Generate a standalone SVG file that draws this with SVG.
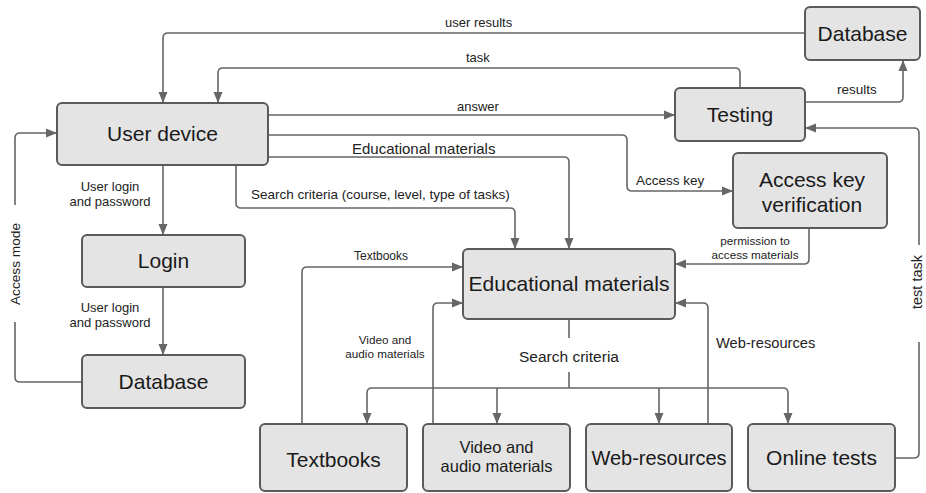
<svg xmlns="http://www.w3.org/2000/svg" width="926" height="493" viewBox="0 0 926 493">
<defs>
<marker id="ah" markerWidth="12" markerHeight="10" refX="11" refY="5" orient="auto" markerUnits="userSpaceOnUse">
<path d="M0,0.5 L11,5 L0,9.5 Z" fill="#666"/>
</marker>
<style>
.box{fill:#e4e4e4;stroke:#5a5a5a;stroke-width:2}
.bt{font-family:"Liberation Sans",Arial,sans-serif;font-size:21px;fill:#1a1a1a;text-anchor:middle}
.c{fill:none;stroke:#666;stroke-width:1.6}
.a{marker-end:url(#ah)}
.l{font-family:"Liberation Sans",Arial,sans-serif;font-size:13px;fill:#222}
.m{text-anchor:middle}
</style>
</defs>
<rect width="926" height="493" fill="#fff"/>
<g id="connectors">
<path class="c a" d="M805,33 H168 Q163,33 163,38 V103"/>
<path class="c a" d="M740,88 V73 Q740,68 735,68 H223 Q218,68 218,73 V103"/>
<path class="c a" d="M268,115 H675"/>
<path class="c a" d="M268,135 H622 Q627,135 627,140 V186 Q627,191 632,191 H733"/>
<path class="c a" d="M268,157 H564 Q569,157 569,162 V249"/>
<path class="c a" d="M236,165 V203 Q236,208 241,208 H510 Q515,208 515,213 V249"/>
<path class="c a" d="M163,165 V235"/>
<path class="c a" d="M163,287 V355"/>
<path class="c" d="M82,382 H20 Q15,382 15,377 V322"/>
<path class="c a" d="M15,205 V138 Q15,133 20,133 H57"/>
<path class="c a" d="M809,228 V259 Q809,264 804,264 H675"/>
<path class="c a" d="M302,424 V272 Q302,267 307,267 H463"/>
<path class="c a" d="M433,424 V308 Q433,303 438,303 H463"/>
<path class="c a" d="M708,424 V308 Q708,303 703,303 H675"/>
<path class="c" d="M569,319 V338 M569,372 V388"/>
<path class="c a" d="M372,388 Q367,388 367,393 V424"/>
<path class="c" d="M372,388 H783"/>
<path class="c a" d="M783,388 Q788,388 788,393 V424"/>
<path class="c a" d="M497,388 V424"/>
<path class="c a" d="M659,388 V424"/>
<path class="c" d="M895,458 H914 Q919,458 919,453 V342"/>
<path class="c a" d="M919,245 V133 Q919,128 914,128 H805"/>
<path class="c a" d="M805,102 H898 Q903,102 903,97 V60"/>
<text class="l" x="445" y="27">user results</text>
<text class="l" x="466" y="62">task</text>
<text class="l" x="457" y="111">answer</text>
<text class="l" x="352" y="154" style="font-size:15px">Educational materials</text>
<text class="l" x="251" y="199" style="font-size:13.5px">Search criteria (course, level, type of tasks)</text>
<text class="l" x="636" y="185" style="font-size:13.5px">Access key</text>
<text class="l" x="837" y="94" style="font-size:13.5px">results</text>
<text class="l m" x="110" y="191">User login</text>
<text class="l m" x="110" y="206">and password</text>
<text class="l m" x="110" y="312">User login</text>
<text class="l m" x="110" y="327">and password</text>
<text class="l m" x="755" y="245" style="font-size:11.7px">permission to</text>
<text class="l m" x="755" y="259" style="font-size:11.7px">access materials</text>
<text class="l m" x="381" y="260" style="font-size:12px">Textbooks</text>
<text class="l m" x="385" y="344" style="font-size:11.7px">Video and</text>
<text class="l m" x="385" y="358" style="font-size:11.7px">audio materials</text>
<text class="l m" x="569" y="362" style="font-size:15.5px">Search criteria</text>
<text class="l" x="716" y="348" style="font-size:14.7px">Web-resources</text>
<text class="l m" transform="translate(20,264) rotate(-90)" style="font-size:13.7px">Access mode</text>
<text class="l m" transform="translate(922,282) rotate(-90)" style="font-size:14.5px">test task</text>
</g>
<g id="user-device"><rect class="box" x="57" y="103" width="211" height="62" rx="5"/><text class="bt" x="162.5" y="141">User device</text></g>
<g id="login"><rect class="box" x="82" y="235" width="163" height="52" rx="5"/><text class="bt" x="163.5" y="268">Login</text></g>
<g id="database-left"><rect class="box" x="82" y="355" width="163" height="53" rx="5"/><text class="bt" x="163.5" y="389">Database</text></g>
<g id="educational-materials"><rect class="box" x="463" y="249" width="212" height="70" rx="5"/><text class="bt" x="569" y="291">Educational materials</text></g>
<g id="testing"><rect class="box" x="675" y="88" width="130" height="53" rx="5"/><text class="bt" x="740" y="122">Testing</text></g>
<g id="database-top"><rect class="box" x="805" y="7" width="115" height="53" rx="5"/><text class="bt" x="862.5" y="41">Database</text></g>
<g id="access-key-verification"><rect class="box" x="733" y="153" width="154" height="75" rx="5"/><text class="bt" x="812" y="187">Access key</text><text class="bt" x="812" y="212">verification</text></g>
<g id="textbooks"><rect class="box" x="260" y="424" width="147" height="67" rx="5"/><text class="bt" x="333.5" y="467">Textbooks</text></g>
<g id="video-audio"><rect class="box" x="423" y="424" width="147" height="67" rx="5"/><text class="bt" x="496.5" y="453" style="font-size:16.5px">Video and</text><text class="bt" x="496.5" y="472" style="font-size:16.5px">audio materials</text></g>
<g id="web-resources"><rect class="box" x="586" y="424" width="146" height="67" rx="5"/><text class="bt" x="659" y="465" style="font-size:20px">Web-resources</text></g>
<g id="online-tests"><rect class="box" x="748" y="424" width="147" height="67" rx="5"/><text class="bt" x="821.5" y="465">Online tests</text></g>
</svg>
